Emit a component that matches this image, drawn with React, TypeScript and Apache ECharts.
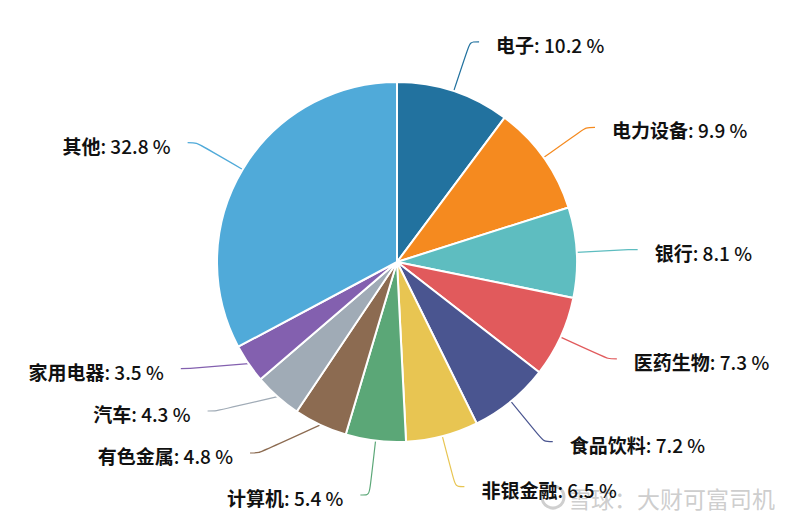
import React, { useEffect, useRef } from "react";
import * as echarts from "echarts";

const categories = ["电子", "电力设备", "银行", "医药生物", "食品饮料", "非银金融", "计算机", "有色金属", "汽车", "家用电器", "其他"];
const values = [10.2, 9.9, 8.1, 7.3, 7.2, 6.5, 5.4, 4.8, 4.3, 3.5, 32.8];
const colors = ["#22729f", "#f58a1f", "#5ebdc0", "#e15a5c", "#4a5590", "#e8c552", "#5ba777", "#8c6b51", "#a0abb6", "#8360af", "#50aad9"];
const watermark = "雪球：大财可富司机";

const CX = 397;
const CY = 262;
const R = 180;
const LEN = 52;
const LEN2 = 9;

export default function App() {
  const ref = useRef<HTMLDivElement>(null);
  useEffect(() => {
    document.body.style.margin = "0";
    const chart = echarts.init(ref.current!, undefined, { renderer: "svg" });
    chart.setOption({
      animation: false,
      backgroundColor: "#ffffff",
      series: [
        {
          type: "pie",
          left: 0,
          top: 0,
          right: 0,
          bottom: 8,
          center: [CX, CY],
          radius: R,
          startAngle: 90,
          clockwise: true,
          data: categories.map((name, i) => ({
            name,
            value: values[i],
            itemStyle: { color: colors[i] },
            labelLine: { lineStyle: { color: colors[i] } },
          })),
          itemStyle: { borderColor: "#ffffff", borderWidth: 2 },
          label: {
            formatter: "{n|{b}}{v|: {c} %}",
            fontSize: 19,
            lineHeight: 35,
            padding: [5, 0, 0, 0],
            color: "#111111",
            fontFamily: "Noto Sans CJK SC",
            distanceToLabelLine: 17,
            rich: {
              n: { fontSize: 19, fontWeight: "bold", fontFamily: "Noto Sans CJK SC", color: "#111111", lineHeight: 35 },
              v: { fontSize: 19, fontWeight: 500, fontFamily: "Noto Sans CJK SC", color: "#111111", lineHeight: 35 },
            },
          },
          labelLine: { length: LEN, length2: LEN2, smooth: true, lineStyle: { width: 1.2 } },
          labelLayout: (p: any) => {
            const pts = p.labelLinePoints;
            if (!pts || pts.length < 3) return {};
            const end = pts[2];
            if (end[0] >= CX) return {};
            const dy = Math.abs(end[1] - CY);
            if (dy >= R + LEN) return {};
            const RR = R + LEN + LEN2;
            const newEnd = CX - Math.sqrt(RR * RR - dy * dy);
            const shift = newEnd - end[0];
            const lr = p.labelRect;
            return {
              x: lr.x + lr.width + shift,
              labelLinePoints: [
                [pts[0][0], pts[0][1]],
                [newEnd + LEN2, end[1]],
                [newEnd, end[1]],
              ],
            };
          },
        },
      ],
      graphic: [
        {
          type: "circle",
          shape: { cx: 553, cy: 497, r: 11 },
          style: { fill: "none", stroke: "#cfcfcf", lineWidth: 3 },
        },
        {
          type: "text",
          left: 567,
          top: 485,
          style: {
            text: watermark,
            fontSize: 23,
            fontFamily: "Noto Sans CJK SC",
            fill: "rgba(200,200,200,0.9)",
            stroke: "#ffffff",
            lineWidth: 2,
          },
        },
      ],
    });
    return () => chart.dispose();
  }, []);
  return <div ref={ref} style={{ width: 800, height: 524 }} />;
}
